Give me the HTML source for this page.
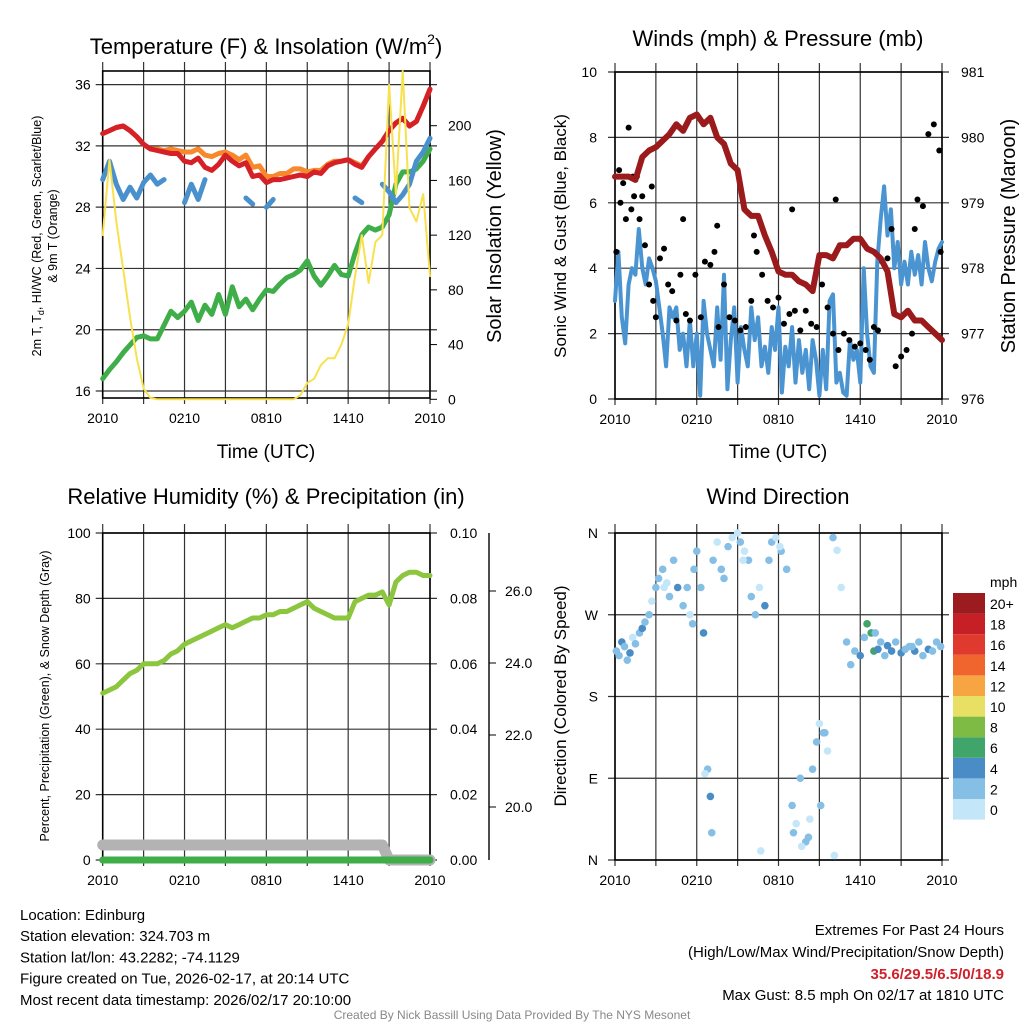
<!DOCTYPE html>
<html><head><meta charset="utf-8"><style>
html,body{margin:0;padding:0;background:#fff;}
svg{display:block;font-family:"Liberation Sans",Arial,sans-serif;}
</style></head><body>
<svg id="c" width="1024" height="1024" viewBox="0 0 1024 1024">
<g id="g"></g>
</svg>
<script>
// ---- data (half-hour steps, h = i*0.5 for 49 values) ----
const tempRed=[32.8,33.0,33.2,33.3,33.0,32.6,32.1,31.8,31.7,31.6,31.5,31.5,31.0,30.9,31.2,30.6,30.4,30.8,31.4,31.0,30.7,30.9,30.0,30.1,29.6,29.8,29.8,29.9,30.0,30.1,30.0,30.3,30.2,30.7,30.9,31.0,31.1,30.8,30.6,31.3,31.8,32.3,33.0,33.5,33.8,33.3,33.6,34.6,35.7];
const tempOrange=[32.8,33.0,33.2,33.3,33.0,32.6,32.1,31.8,31.8,31.7,31.8,31.7,31.6,31.6,31.8,31.4,31.3,31.5,31.6,31.4,31.1,31.4,30.6,30.7,30.0,30.0,30.2,30.2,30.5,30.5,30.3,30.4,30.4,30.8,31.0,31.0,31.1,30.9,30.7,31.3,31.8,32.3,33.0,33.5,33.8,33.3,33.6,34.6,35.7];
const tempBlue=[29.8,31.0,29.5,28.5,29.3,28.6,29.6,30.1,29.5,29.8,null,null,28.3,29.5,28.5,29.8,null,28.5,null,null,null,28.6,28.2,null,28.0,28.5,null,null,null,null,null,null,null,null,null,null,null,28.6,28.3,null,null,29.5,29.0,28.3,28.8,29.5,31.0,31.6,32.5];
const dewGreen=[16.8,17.4,17.9,18.5,19.0,19.5,19.6,19.4,19.4,20.3,21.2,20.8,21.2,21.8,20.6,21.6,21.0,22.3,21.0,22.8,21.5,22.0,21.3,22.0,22.6,22.5,23.0,23.4,23.6,23.9,24.5,23.5,22.9,23.5,24.2,23.6,23.5,25.0,26.2,26.7,26.5,26.7,27.5,29.5,30.3,30.3,30.5,31.0,31.8];
const solar=[120,175,130,95,60,30,8,1,0,0,0,0,0,0,0,0,0,0,0,0,0,0,0,0,0,0,0,0,0,3,12,15,25,30,30,40,55,90,120,85,115,120,230,150,240,140,130,150,90];
const pressure=[979.4,979.4,979.4,979.35,979.7,979.8,979.85,979.95,980.05,980.2,980.1,980.3,980.35,980.2,980.3,980.0,979.9,979.6,979.5,978.9,978.8,978.8,978.5,978.25,977.95,977.9,977.9,977.8,977.75,977.65,978.2,978.2,978.15,978.35,978.35,978.45,978.45,978.3,978.25,978.15,977.95,977.3,977.25,977.35,977.2,977.2,977.1,977.0,976.9];
// quarter-hour wind (97 values, h=i*0.25)
const windSpeed=[3,4.5,2.5,1.7,3.5,4,3.8,5.2,4,3.5,4.3,4,3.6,2.8,2,1,2.8,2.5,2.8,1.5,2,1,2.4,1,2,0.1,3,2,1.5,1,2.8,1.2,3.8,0.3,1.8,2.8,0.5,2.2,1.5,1,2.8,1.8,2.5,1,1.6,0.8,2.2,1.5,2.8,0.2,1.6,1,2.2,0.5,1.8,0.8,1.5,0.3,1.8,1.2,0.1,1.5,0.3,3,3.2,0.5,0.8,0.2,0.1,1.8,1.2,1.5,0.5,4,2,1,0.8,4.2,5.5,6.5,5,5.8,4,4.8,3.5,4.2,3.5,4.5,3.8,4.4,3.5,4.8,4,3.6,4.2,4.6,4.8];
const gustT=[0.1,0.3,0.4,0.6,0.8,1,1.2,1.4,1.6,1.8,2,2.2,2.5,2.8,3,3.3,3.6,3.9,4.2,4.5,4.8,5.2,5.5,5.9,6.3,6.6,7,7.3,7.6,8,8.4,8.8,9.2,9.6,10,10.4,10.8,11.2,11.6,12,12.4,12.8,13.2,13.6,14,14.4,14.8,15.2,15.6,16,16.4,16.8,17.2,17.6,18,18.4,18.7,19,19.3,19.6,20,20.3,20.6,21,21.4,21.8,22.2,22.6,23,23.4,23.8,1.3,2.7,5,7.5,10.2,13,16.2,22,23.9];
const gustV=[4.5,7,6,6.6,5.5,8.3,5.8,6.2,6.8,5.5,6.2,4.7,3.5,3,2.5,4.3,4.6,3.5,3.3,2.4,3.8,2.6,2.4,3.8,2.5,4.2,4.1,4.5,2.2,3.5,2.5,2.4,2.1,2.2,3,4.5,3.8,3,2.8,3.1,2.3,2.6,2.7,2.1,2.7,2.3,2.2,3.5,2.8,2,1.5,2,1.8,1.6,1.7,1.5,1.2,2.2,2.1,4.2,4.3,5.2,1,1.3,1.5,2,6.1,5.9,8.1,8.4,7.6,6.8,6.5,5.5,5.3,5,5.8,6.1,5.2,4.5,2.8,1.4,5.6];
const rh=[51,52,53,55,57,58,60,60,60,61,63,64,66,67,68,69,70,71,72,71,72,73,74,74,75,75,76,76,77,78,79,77,76,75,74,74,74,79,80,81,81,82,78,85,87,88,88,87,87];
const snowDepth=[18.9,18.9,18.9,18.9,18.9,18.9,18.9,18.9,18.9,18.9,18.9,18.9,18.9,18.9,18.9,18.9,18.9,18.9,18.9,18.9,18.9,18.9,18.9,18.9,18.9,18.9,18.9,18.9,18.9,18.9,18.9,18.9,18.9,18.9,18.9,18.9,18.9,18.9,18.9,18.9,18.9,18.9,18.5,18.5,18.5,18.5,18.5,18.5,18.5];
const dirT=[0.1,0.3,0.5,0.7,0.9,1.1,1.3,1.5,1.8,2,2.2,2.5,2.7,3,3.2,3.5,3.8,4,4.3,4.6,5,5.3,5.5,5.8,6,6.3,6.5,6.8,7,7.2,7.5,7.8,8,8.3,8.6,9,9.2,9.5,9.8,10,10.3,10.6,11,11.3,11.5,11.8,12.2,12.6,13,13.3,13.6,14,14.3,14.5,14.8,15,15.3,15.6,16,16.3,16.6,17,17.3,17.6,18,18.3,18.5,18.8,19,19.3,19.5,19.8,20,20.3,20.6,21,21.3,21.6,22,22.3,22.6,23,23.3,23.6,23.9,6.6,7.1,10.7,13.1,13.7,14.2,15.1,15.4,16.1,3.6,5.7,9.4,12.1,19.1,21.8];
const dirV=[230,225,240,235,220,228,245,238,250,255,262,270,285,300,310,320,305,290,330,300,280,300,270,320,340,300,250,100,70,330,350,320,310,345,355,360,350,340,330,290,270,300,280,330,350,355,340,320,60,40,90,20,45,100,130,150,140,120,355,341,300,240,215,230,225,245,260,250,230,232,240,225,236,230,240,228,232,235,230,240,225,232,230,240,235,95,30,10,30,15,25,60,140,5,300,260,330,345,250,235];
const dirS=[2,3,4,2,3,4,1,2,3,4,2,2,1,2,3,2,1,3,2,4,2,3,1,2,3,3,4,2,4,2,1,3,2,2,1,0,3,1,2,3,2,1,4,3,2,1,3,3,2,1,2,2,1,2,2,1,3,1,2,1,1,3,2,3,4,2,6,6,7,4,3,2,4,5,3,4,2,3,4,2,3,4,3,2,3,1,2,1,2,1,2,2,3,1,0,2,1,1,3,3];
const xTicks=["2010","0210","0810","1410","2010"];

const svgNS="http://www.w3.org/2000/svg";
const G=document.getElementById('g');
function el(tag,attrs,parent){const e=document.createElementNS(svgNS,tag);for(const k in attrs)e.setAttribute(k,attrs[k]);(parent||G).appendChild(e);return e;}
function txt(s,x,y,size,anchor,extra,parent){const e=el('text',Object.assign({x:x,y:y,'font-size':size,'text-anchor':anchor||'middle',fill:'#000'},extra||{}),parent);e.textContent=s;return e;}

function panel(name,x0,x1,y0,y1){
  const g=el('g',{});
  
  
  const X=h=>x0+(x1-x0)*h/24;
  for(let h=0;h<=24;h+=3){el('line',{x1:X(h),x2:X(h),y1:y0-9,y2:y1+6,stroke:'#333','stroke-width':1.2},g);}
  xTicks.forEach((t,i)=>{const l=txt(t,X(i*6),y1+25,14,'middle',{},g);});
  return {g,X};
}
function hgrid(p,x0,x1,y){el('line',{x1:x0-7,x2:x1+7,y1:y,y2:y,stroke:'#333','stroke-width':1.2},p.g);}
function box(p,x0,x1,y0,y1){el('rect',{x:x0,y:y0,width:x1-x0,height:y1-y0,fill:'none',stroke:'#000','stroke-width':1.6},p.g);}
function pathOf(vals,step,X,Y){let d='',pen=false;vals.forEach((v,i)=>{if(v===null){pen=false;return;}d+=(pen?'L':'M')+X(i*step).toFixed(1)+','+Y(v).toFixed(1);pen=true;});return d;}
function line(p,vals,step,X,Y,col,w,name){const e=el('path',{d:pathOf(vals,step,X,Y),fill:'none',stroke:col,'stroke-width':w,'stroke-linejoin':'round','stroke-linecap':'round'},p.g);return e;}

// ---------- Panel 1 ----------
{
const x0=102.7,x1=430,y0=71,y1=398;
const p=panel('temperature-panel',x0,x1,y0,y1);
const Y=v=>391-(v-16)*15.32, Y2=v=>399.3-v*1.368;
[16,20,24,28,32,36].forEach(v=>{hgrid(p,x0,x1,Y(v));txt(String(v),x0-12,Y(v)+5,14,'end',{},p.g);});
[0,40,80,120,160,200].forEach(v=>{el('line',{x1:x1,x2:x1+7,y1:Y2(v),y2:Y2(v),stroke:'#000'},p.g);txt(String(v),x1+18,Y2(v)+5,14,'start',{},p.g);});
box(p,x0,x1,y0,y1);
line(p,dewGreen,0.5,p.X,Y,'#3fae49',5,'dewpoint-line');
line(p,tempOrange,0.5,p.X,Y,'#f7892c',5,'temp-9m-line');
line(p,tempRed,0.5,p.X,Y,'#d62027',5,'temp-2m-line');
line(p,tempBlue,0.5,p.X,Y,'#4a90cc',5,'heat-index-windchill-line');
line(p,solar,0.5,p.X,Y2,'#f7e14e',2,'solar-insolation-line');
}
{const t=el('text',{x:266,y:54,'font-size':22,'text-anchor':'middle'});t.innerHTML='Temperature (F) &amp; Insolation (W/m<tspan font-size="14" dy="-10">2</tspan><tspan dy="10">)</tspan>';}
txt('Time (UTC)',266,458,19,'middle',{});
{const t=el('text',{transform:'translate(41,236) rotate(-90)','font-size':12.5,'text-anchor':'middle'});t.innerHTML='2m T, T<tspan font-size="9" dy="3">d</tspan><tspan dy="-3">, HI/WC (Red, Green, Scarlet/Blue)</tspan>';}
txt('& 9m T (Orange)',0,0,12.5,'middle',{transform:'translate(57,236) rotate(-90)'});
txt('Solar Insolation (Yellow)',0,0,20,'middle',{transform:'translate(501,236) rotate(-90)',});

// ---------- Panel 2 ----------
{
const x0=615,x1=942,y0=72,y1=399;
const p=panel('wind-pressure-panel',x0,x1,y0,y1);
const Y=v=>399-v*32.7, Y2=v=>399-(v-976)*65.4;
[0,2,4,6,8,10].forEach(v=>{hgrid(p,x0,x1,Y(v));txt(String(v),x0-18,Y(v)+5,14,'end',{},p.g);});
[976,977,978,979,980,981].forEach(v=>txt(String(v),x1+19,Y2(v)+5,14,'start',{},p.g));
box(p,x0,x1,y0,y1);
line(p,windSpeed,0.25,p.X,Y,'#4a94d2',4,'wind-speed-line');
gustT.forEach((t,i)=>{const c=el('circle',{cx:p.X(t),cy:Y(gustV[i]),r:3,fill:'#000'},p.g);});
line(p,pressure,0.5,p.X,Y2,'#9b1a1c',6,'pressure-line');
}
txt('Winds (mph) & Pressure (mb)',778,46,22,'middle',{});
txt('Time (UTC)',778,458,19,'middle');
txt('Sonic Wind & Gust (Blue, Black)',0,0,17,'middle',{transform:'translate(566,236) rotate(-90)',});
txt('Station Pressure (Maroon)',0,0,20,'middle',{transform:'translate(1015,236) rotate(-90)',});

// ---------- Panel 3 ----------
{
const x0=102.7,x1=430,y0=533,y1=860;
const p=panel('humidity-panel',x0,x1,y0,y1);
const Y=v=>860-v*3.27, YS=v=>807-(v-20)*36;
[0,20,40,60,80,100].forEach(v=>{hgrid(p,x0,x1,Y(v));txt(String(v),x0-12,Y(v)+5,14,'end',{},p.g);});
['0.00','0.02','0.04','0.06','0.08','0.10'].forEach((s,i)=>txt(s,x1+20,Y(i*20)+5,14,'start',{},p.g));
box(p,x0,x1,y0,y1);
el('line',{x1:489,x2:489,y1:533,y2:860,stroke:'#000','stroke-width':1.4},p.g);
[20,22,24,26].forEach(v=>{el('line',{x1:489,x2:496,y1:YS(v),y2:YS(v),stroke:'#000'},p.g);txt(v.toFixed(1),505,YS(v)+5,14,'start',{},p.g);});
line(p,snowDepth.map(v=>v>18.6?4.6:0),0.5,p.X,Y,'#b3b3b3',11,'snow-depth-line');
line(p,rh.map(()=>0),0.5,p.X,Y,'#3fae49',7,'precip-line');
line(p,rh,0.5,p.X,Y,'#8cc63f',5,'rh-line');
}
txt('Relative Humidity (%) & Precipitation (in)',266,504,22,'middle',{});
txt('Percent, Precipitation (Green), & Snow Depth (Gray)',0,0,12.5,'middle',{transform:'translate(49,696) rotate(-90)'});

// ---------- Panel 4 ----------
const cbColors=['#c3e6f9','#85bfe6','#4a8cc6','#3fa56a','#7dbb44','#e8e065','#f7a443','#f0652d','#e03a2e','#c62026','#9b1b1e'];
{
const x0=615,x1=942,y0=533,y1=860;
const p=panel('wind-direction-panel',x0,x1,y0,y1);
const Y=v=>860-v*327/360;
['N','E','S','W','N'].forEach((s,i)=>{hgrid(p,x0,x1,Y(i*90));txt(s,x0-17,Y(i*90)+5,14,'end',{},p.g);});
box(p,x0,x1,y0,y1);
dirT.forEach((t,i)=>{const ci=Math.min(10,Math.floor(dirS[i]/2+0.25));const c=el('circle',{cx:p.X(t),cy:Y(dirV[i]),r:3.8,fill:cbColors[ci]},p.g);});
const cb=el('g',{});
const labs=['0','2','4','6','8','10','12','14','16','18','20+'];
for(let i=0;i<11;i++){const yy=799-i*20.6;el('rect',{x:953,y:yy,width:32,height:20.6,fill:cbColors[i]},cb);txt(labs[i],990,yy+16,14,'start',{},cb);}
txt('mph',990,587,14,'start',{},cb);
}
txt('Wind Direction',778,504,22,'middle',{});
txt('Direction (Colored By Speed)',0,0,17,'middle',{transform:'translate(566,696) rotate(-90)'});

// ---------- footer ----------
const info=['Location: Edinburg','Station elevation: 324.703 m','Station lat/lon: 43.2282; -74.1129','Figure created on Tue, 2026-02-17, at 20:14 UTC','Most recent data timestamp: 2026/02/17 20:10:00'];
info.forEach((s,i)=>{const t=txt(s,20,920+i*21.2,15,'start');});
txt('Extremes For Past 24 Hours',1004,935,15,'end');
txt('(High/Low/Max Wind/Precipitation/Snow Depth)',1004,957,15,'end');
txt('35.6/29.5/6.5/0/18.9',1004,979,15,'end',{fill:'#d0202a','font-weight':'bold',});
txt('Max Gust: 8.5 mph On 02/17 at 1810 UTC',1004,1000,15,'end');
txt('Created By Nick Bassill Using Data Provided By The NYS Mesonet',512,1019,12,'middle',{fill:'#888',});
</script>
</body></html>
